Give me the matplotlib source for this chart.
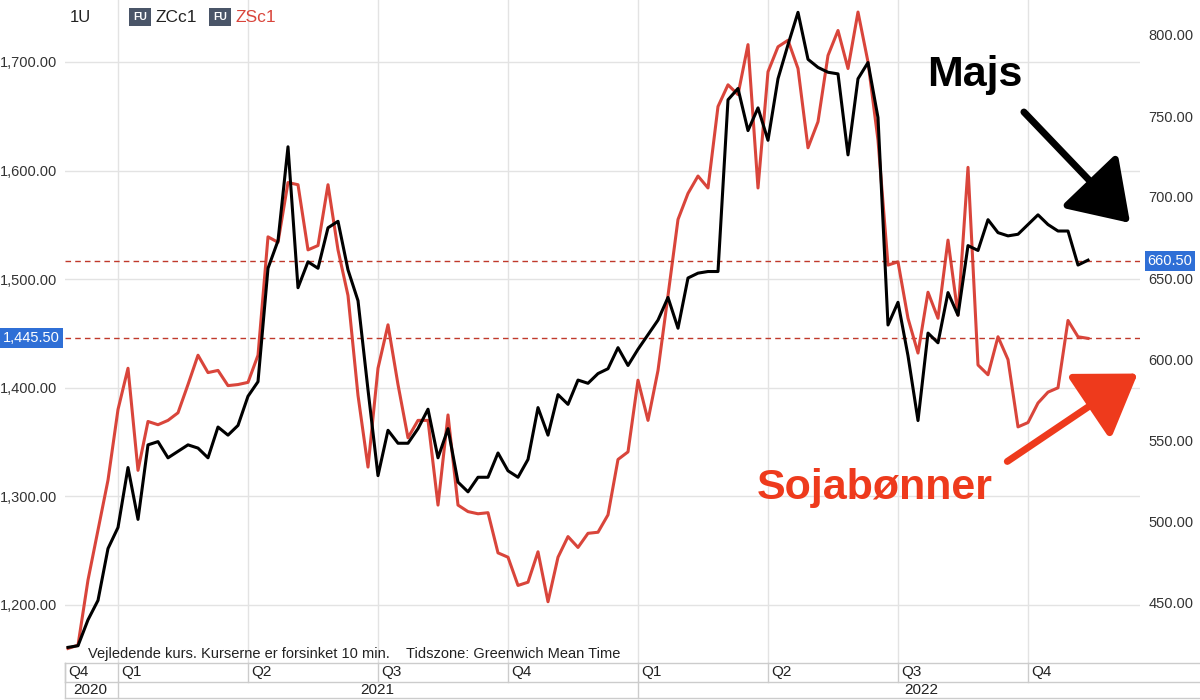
import matplotlib
matplotlib.use("Agg")
import matplotlib.pyplot as plt
from matplotlib.patches import FancyArrowPatch
plt.rcParams["font.family"] = "Liberation Sans"

corn = [422,423,439,451,483,496,533,501,547,549,539,543,547,545,539,558,553,559,577,586,
        656,673,731,644,660,656,681,685,655,636,581,528,556,548,548,557,569,539,557,524,
        518,527,527,542,531,527,538,570,553,578,572,587,585,591,594,607,596,606,615,624,
        638,619,650,653,654,654,760,767,741,755,735,773,794,814,785,780,777,776,726,773,
        783,749,621,635,602,562,616,610,641,627,670,667,686,678,676,677,683,689,683,679,
        679,658,661]
soy = [1160,1163,1223,1269,1315,1380,1418,1324,1369,1366,1370,1377,1403,1430,1414,1416,1402,1403,1405,1430,
       1539,1534,1589,1587,1527,1531,1587,1527,1485,1393,1327,1418,1458,1403,1354,1370,1370,1292,1375,1292,
       1286,1284,1285,1248,1244,1218,1221,1249,1203,1244,1263,1253,1266,1267,1283,1334,1341,1407,1370,1416,
       1485,1555,1579,1595,1584,1659,1679,1670,1716,1584,1691,1714,1720,1694,1621,1645,1706,1729,1694,1746,
       1700,1628,1513,1516,1464,1432,1488,1464,1536,1467,1603,1421,1412,1447,1426,1364,1368,1386,1396,1400,
       1462,1447,1445.5]
quarter_labels = ["Q4","Q1","Q2","Q3","Q4","Q1","Q2","Q3","Q4"]
quarter_pos = [-0.3,5,18,31,44,57,70,83,96]
year_labels = ["2020","2021","2022"]
year_pos = [0.5,29.2,83.6]
left_ticks = [1200,1300,1400,1500,1600,1700]
right_ticks = [450,500,550,600,650,700,750,800]
soy_last = 1445.50
corn_last = 660.50

W, H = 1200, 700
fig = plt.figure(figsize=(12, 7), dpi=100)
x0, x1, ytop, ybot = 65, 1140, 0, 663
ax = fig.add_axes([x0/W, (H-ybot)/H, (x1-x0)/W, (ybot-ytop)/H])
ax2 = ax.twinx()
xs = list(range(len(soy)))
xlim = (-0.3, (x1-x0)/10 - 0.3)
ax.set_xlim(*xlim)
lpp = 500/543
ax.set_ylim(1200 - (ybot-605)*lpp, 1700 + (62-ytop)*lpp)
rpp = 350/567
ax2.set_ylim(450 - (ybot-602)*rpp, 800 + (35-ytop)*rpp)

ax.plot(xs, soy, color="#d9453b", lw=2.2, zorder=3)
ax2.plot(list(range(len(corn))), corn, color="black", lw=2.2, zorder=3)
ax.axhline(soy_last, color="#c0392b", ls=(0,(4,3)), lw=1)
ax2.axhline(corn_last, color="#c0392b", ls=(0,(4,3)), lw=1)

ax.set_yticks(left_ticks)
ax.set_yticklabels([f"{v:,.2f}" for v in left_ticks])
ax2.set_yticks(right_ticks)
ax2.set_yticklabels([f"{v:.2f}" for v in right_ticks])
for a in (ax, ax2):
    a.tick_params(length=0, labelsize=10.5, colors="#333333", pad=6)
    for s in a.spines.values():
        s.set_visible(False)
ax.yaxis.grid(True, color="#e3e3e3", lw=1)
ax.set_xticks(quarter_pos[1:])
ax.set_xticklabels([])
ax.xaxis.grid(True, color="#e3e3e3", lw=1)
ax.set_axisbelow(True)

ax.text(-0.005, soy_last, f"{soy_last:,.2f}", transform=ax.get_yaxis_transform(), ha="right", va="center",
        color="white", fontsize=10.5, bbox=dict(boxstyle="square,pad=0.2", fc="#2f6fd6", ec="none"))
ax2.text(1.007, corn_last, f"{corn_last:.2f}", transform=ax2.get_yaxis_transform(), ha="left", va="center",
         color="white", fontsize=10.5, bbox=dict(boxstyle="square,pad=0.2", fc="#2f6fd6", ec="none"))

fig.add_artist(plt.Line2D([x0/W, 1], [(H-ybot)/H]*2, color="#cccccc", lw=1))
fig.add_artist(plt.Line2D([x0/W, 1], [(H-682)/H]*2, color="#cccccc", lw=1))
fig.add_artist(plt.Line2D([x0/W, 1], [(H-698)/H]*2, color="#cccccc", lw=1))
fig.add_artist(plt.Line2D([x0/W]*2, [(H-698)/H, (H-ybot)/H], color="#cccccc", lw=1))
def px(i): return x0 + (i - xlim[0]) * 10
for lab, p in zip(quarter_labels, quarter_pos):
    xp = px(p)
    fig.text((xp+3)/W, (H-672)/H, lab, ha="left", va="center", fontsize=11, color="#222222")
    fig.add_artist(plt.Line2D([xp/W]*2, [(H-682)/H, (H-ybot)/H], color="#cccccc", lw=1))
for lab, p in zip(year_labels, year_pos):
    fig.text(px(p)/W, (H-690)/H, lab, ha="left", va="center", fontsize=11, color="#222222")
for p in [5, 57]:
    xp = px(p)
    fig.add_artist(plt.Line2D([xp/W]*2, [(H-698)/H, (H-682)/H], color="#cccccc", lw=1))

fig.text(88/W, (H-654)/H, "Vejledende kurs. Kurserne er forsinket 10 min.    Tidszone: Greenwich Mean Time",
         fontsize=10.5, color="#222222", va="center")

fig.text(70/W, (H-17)/H, "1U", fontsize=12, va="center", color="#222")
fig.text(133/W, (H-17)/H, "FU", fontsize=7.5, va="center", color="white", weight="bold",
         bbox=dict(boxstyle="square,pad=0.35", fc="#4a5568", ec="none"))
fig.text(156/W, (H-17)/H, "ZCc1", fontsize=12.5, va="center", color="#222")
fig.text(213/W, (H-17)/H, "FU", fontsize=7.5, va="center", color="white", weight="bold",
         bbox=dict(boxstyle="square,pad=0.35", fc="#4a5568", ec="none"))
fig.text(236/W, (H-17)/H, "ZSc1", fontsize=12.5, va="center", color="#d9453b")

fig.text(975/W, (H-75)/H, "Majs", fontsize=31, weight="bold", ha="center", va="center", color="black")
fig.add_artist(FancyArrowPatch((1022/W, (H-110)/H), (1132/W, (H-225)/H), transform=fig.transFigure,
               arrowstyle="-|>,head_length=4.5,head_width=3", lw=5, color="black", mutation_scale=8))
fig.text(875/W, (H-488)/H, "Sojabønner", fontsize=31, weight="bold", ha="center", va="center", color="#ee3a1c")
fig.add_artist(FancyArrowPatch((1005/W, (H-463)/H), (1140/W, (H-372)/H), transform=fig.transFigure,
               arrowstyle="-|>,head_length=4.5,head_width=3", lw=5, color="#ee3a1c", mutation_scale=8))

fig.savefig("out.png", dpi=100)
